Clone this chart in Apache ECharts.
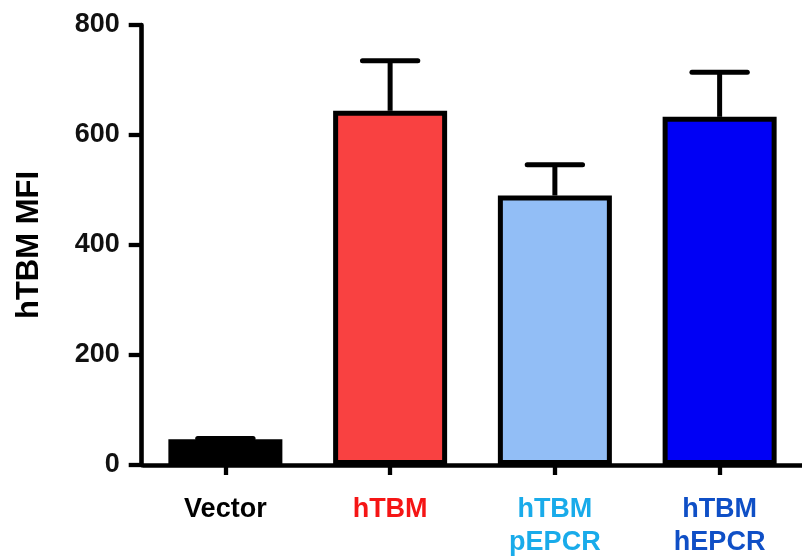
<!DOCTYPE html>
<html>
<head>
<meta charset="utf-8">
<script src="https://cdn.jsdelivr.net/npm/echarts@6/dist/echarts.min.js"></script>
<style>
  html, body { margin: 0; padding: 0; background: #fff; }
  #chart { width: 802px; height: 559px; }
</style>
</head>
<body>
<div id="chart"></div>
<script>
// Groups, mean MFI and upper end of the error bar
var categories = ['Vector', 'hTBM', 'hTBM\npEPCR', 'hTBM\nhEPCR'];
var meanMFI = [47, 644, 490, 633];
var upperMFI = [48, 735, 546, 714];
var yTicks = [0, 200, 400, 600, 800];

// Styling
var barFill = ['#000000', '#F94141', '#92BEF6', '#0000F5'];
var labelColor = ['#000000', '#F51515', '#19ABEA', '#0F4FC6'];
var FONT = '"Liberation Sans", Arial, Helvetica, sans-serif';

var chart = echarts.init(document.getElementById('chart'), null, { renderer: 'canvas' });

chart.setOption({
  animation: false,
  backgroundColor: '#ffffff',
  grid: { left: 143, right: -3.8, top: 25, bottom: 89, containLabel: false },
  xAxis: {
    type: 'category',
    data: categories,
    axisLine: { show: true, lineStyle: { color: '#000', width: 4.6 } },
    axisTick: { show: true, alignWithLabel: true, length: 10, lineStyle: { color: '#000', width: 4.3 } },
    axisLabel: {
      margin: 28,
      fontFamily: FONT,
      fontWeight: 'bold',
      fontSize: 27,
      lineHeight: 33,
      interval: 0,
      color: function (value, index) { return labelColor[index]; }
    }
  },
  yAxis: {
    type: 'value',
    min: yTicks[0],
    max: yTicks[yTicks.length - 1],
    interval: 200,
    offset: 1.3,
    name: 'hTBM MFI',
    nameLocation: 'middle',
    nameGap: 97,
    nameTextStyle: { fontFamily: FONT, fontWeight: 'bold', fontSize: 31, color: '#000' },
    axisLine: { show: true, lineStyle: { color: '#000', width: 4.6 } },
    axisTick: { show: true, length: 13, lineStyle: { color: '#000', width: 4.3 } },
    axisLabel: {
      margin: 22,
      fontFamily: FONT,
      fontWeight: 'bold',
      fontSize: 27,
      color: '#111'
    },
    splitLine: { show: false }
  },
  series: [
    {
      type: 'bar',
      barWidth: 114,
      data: meanMFI.map(function (v, i) {
        return { value: v, itemStyle: { color: barFill[i] } };
      }),
      itemStyle: { borderColor: '#000', borderWidth: 5 },
      z: 2
    },
    {
      // error bars: whisker from the mean up to the upper value, capped
      type: 'custom',
      data: meanMFI.map(function (v, i) { return [i, v, upperMFI[i]]; }),
      encode: { x: 0, y: [1, 2] },
      z: 3,
      renderItem: function (params, api) {
        var x = api.value(0);
        var base = api.coord([x, api.value(1)]);
        var top = api.coord([x, api.value(2)]);
        var band = api.size([1, 0])[0];
        var half = band * 0.168;
        return {
          type: 'group',
          children: [
            { type: 'line', shape: { x1: base[0], y1: base[1], x2: top[0], y2: top[1] },
              style: { stroke: '#000', lineWidth: 5, lineCap: 'butt' } },
            { type: 'line', shape: { x1: top[0] - half, y1: top[1], x2: top[0] + half, y2: top[1] },
              style: { stroke: '#000', lineWidth: 5, lineCap: 'round' } }
          ]
        };
      }
    }
  ]
});
</script>
</body>
</html>
